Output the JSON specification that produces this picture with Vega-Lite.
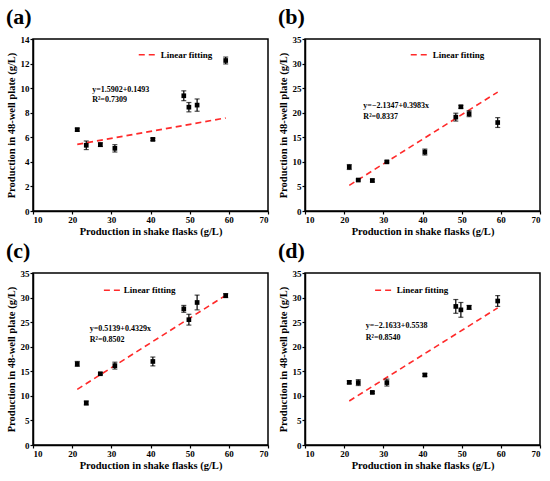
{
  "$schema": "https://vega.github.io/schema/vega-lite/v6.json",
  "datasets": {
    "d": [
      {"panel": "a", "kind": "pt", "x": 21.3, "y": 6.62, "err": 0.12},
      {"panel": "a", "kind": "pt", "x": 23.6, "y": 5.35, "err": 0.35},
      {"panel": "a", "kind": "pt", "x": 27.2, "y": 5.4, "err": 0.15},
      {"panel": "a", "kind": "pt", "x": 30.9, "y": 5.1, "err": 0.3},
      {"panel": "a", "kind": "pt", "x": 40.6, "y": 5.83, "err": 0.1},
      {"panel": "a", "kind": "pt", "x": 48.5, "y": 9.38, "err": 0.4},
      {"panel": "a", "kind": "pt", "x": 49.8, "y": 8.45, "err": 0.38},
      {"panel": "a", "kind": "pt", "x": 51.9, "y": 8.62, "err": 0.5},
      {"panel": "a", "kind": "pt", "x": 59.2, "y": 12.25, "err": 0.28},
      {"panel": "a", "kind": "fit", "x": 21.3, "y": 5.42},
      {"panel": "a", "kind": "fit", "x": 59.2, "y": 7.57},
      {"panel": "a", "kind": "leg", "x": 37.0, "x2": 41.7, "y": 12.72},
      {"panel": "a", "kind": "legtext", "x": 42.6, "y": 12.72, "label": "Linear fitting"},
      {"panel": "a", "kind": "eq", "x": 25.1, "y": 9.87, "label": "y=1.5902+0.1493"},
      {"panel": "a", "kind": "eq", "x": 25.1, "y": 9.0, "label": "R²=0.7309"},

      {"panel": "b", "kind": "pt", "x": 21.3, "y": 8.95, "err": 0.5},
      {"panel": "b", "kind": "pt", "x": 23.6, "y": 6.3, "err": 0.2},
      {"panel": "b", "kind": "pt", "x": 27.2, "y": 6.2, "err": 0.3},
      {"panel": "b", "kind": "pt", "x": 30.9, "y": 10.0, "err": 0.2},
      {"panel": "b", "kind": "pt", "x": 40.6, "y": 12.0, "err": 0.6},
      {"panel": "b", "kind": "pt", "x": 48.5, "y": 19.1, "err": 0.8},
      {"panel": "b", "kind": "pt", "x": 49.8, "y": 21.2, "err": 0.3},
      {"panel": "b", "kind": "pt", "x": 51.9, "y": 19.8, "err": 0.6},
      {"panel": "b", "kind": "pt", "x": 59.2, "y": 18.0, "err": 1.0},
      {"panel": "b", "kind": "fit", "x": 21.3, "y": 5.22},
      {"panel": "b", "kind": "fit", "x": 59.2, "y": 24.2},
      {"panel": "b", "kind": "leg", "x": 37.0, "x2": 41.7, "y": 31.8},
      {"panel": "b", "kind": "legtext", "x": 42.6, "y": 31.8, "label": "Linear fitting"},
      {"panel": "b", "kind": "eq", "x": 24.9, "y": 21.3, "label": "y=−2.1347+0.3983x"},
      {"panel": "b", "kind": "eq", "x": 24.9, "y": 19.1, "label": "R²=0.8337"},

      {"panel": "c", "kind": "pt", "x": 21.3, "y": 16.5, "err": 0.5},
      {"panel": "c", "kind": "pt", "x": 23.6, "y": 8.55, "err": 0.4},
      {"panel": "c", "kind": "pt", "x": 27.2, "y": 14.5, "err": 0.2},
      {"panel": "c", "kind": "pt", "x": 30.9, "y": 16.15, "err": 0.7},
      {"panel": "c", "kind": "pt", "x": 40.6, "y": 17.0, "err": 0.9},
      {"panel": "c", "kind": "pt", "x": 48.5, "y": 27.7, "err": 0.7},
      {"panel": "c", "kind": "pt", "x": 49.8, "y": 25.5, "err": 1.1},
      {"panel": "c", "kind": "pt", "x": 51.9, "y": 29.0, "err": 1.5},
      {"panel": "c", "kind": "pt", "x": 59.2, "y": 30.4, "err": 0.4},
      {"panel": "c", "kind": "fit", "x": 21.3, "y": 11.33},
      {"panel": "c", "kind": "fit", "x": 59.2, "y": 30.46},
      {"panel": "c", "kind": "leg", "x": 28.1, "x2": 32.4, "y": 31.5},
      {"panel": "c", "kind": "legtext", "x": 33.2, "y": 31.5, "label": "Linear fitting"},
      {"panel": "c", "kind": "eq", "x": 24.5, "y": 23.7, "label": "y=0.5139+0.4329x"},
      {"panel": "c", "kind": "eq", "x": 24.5, "y": 21.3, "label": "R²=0.8502"},

      {"panel": "d", "kind": "pt", "x": 21.3, "y": 12.75, "err": 0.3},
      {"panel": "d", "kind": "pt", "x": 23.6, "y": 12.7, "err": 0.6},
      {"panel": "d", "kind": "pt", "x": 27.2, "y": 10.7, "err": 0.2},
      {"panel": "d", "kind": "pt", "x": 30.9, "y": 12.7, "err": 0.7},
      {"panel": "d", "kind": "pt", "x": 40.6, "y": 14.25, "err": 0.3},
      {"panel": "d", "kind": "pt", "x": 48.5, "y": 28.2, "err": 1.4},
      {"panel": "d", "kind": "pt", "x": 49.8, "y": 27.5, "err": 1.5},
      {"panel": "d", "kind": "pt", "x": 51.9, "y": 28.0, "err": 0.4},
      {"panel": "d", "kind": "pt", "x": 59.2, "y": 29.3, "err": 1.1},
      {"panel": "d", "kind": "fit", "x": 21.3, "y": 8.96},
      {"panel": "d", "kind": "fit", "x": 59.2, "y": 27.9},
      {"panel": "d", "kind": "leg", "x": 27.9, "x2": 32.5, "y": 31.5},
      {"panel": "d", "kind": "legtext", "x": 33.4, "y": 31.5, "label": "Linear fitting"},
      {"panel": "d", "kind": "eq", "x": 25.5, "y": 24.2, "label": "y=−2.1633+0.5538"},
      {"panel": "d", "kind": "eq", "x": 25.5, "y": 21.8, "label": "R²=0.8540"}
    ]
  },
  "columns": 2,
  "spacing": {"column": 7, "row": 1},
  "concat": [
    {
      "title": "(a)",
      "width": 235,
      "height": 172,
      "data": {"name": "d"},
      "transform": [{"filter": "datum.panel == 'a'"}],
      "encoding": {
        "x": {"field": "x", "type": "quantitative", "title": "Production in shake flasks (g/L)",
              "scale": {"domain": [10, 70], "nice": false}, "axis": {"values": [10, 20, 30, 40, 50, 60, 70]}},
        "y": {"field": "y", "type": "quantitative", "title": "Production in 48-well plate (g/L)",
              "scale": {"domain": [0, 14], "nice": false}, "axis": {"values": [0, 2, 4, 6, 8, 10, 12, 14]}}
      },
      "layer": [
        {"transform": [{"filter": "datum.kind == 'fit'"}], "mark": {"type": "line", "color": "#ff2a2a", "strokeWidth": 1.6, "strokeDash": [6, 4]}},
        {"transform": [{"filter": "datum.kind == 'pt'"}], "mark": {"type": "errorbar", "color": "black", "thickness": 1.2, "ticks": {"size": 5, "thickness": 1.2, "color": "black"}}, "encoding": {"yError": {"field": "err"}}},
        {"transform": [{"filter": "datum.kind == 'pt'"}], "mark": {"type": "square", "filled": true, "color": "black", "size": 22, "opacity": 1}},
        {"transform": [{"filter": "datum.kind == 'leg'"}], "mark": {"type": "rule", "color": "#ff2a2a", "strokeWidth": 1.6, "strokeDash": [6, 4]}, "encoding": {"x2": {"field": "x2"}}},
        {"transform": [{"filter": "datum.kind == 'legtext'"}], "mark": {"type": "text", "align": "left", "color": "black", "fontSize": 9, "fontWeight": "bold", "font": "Liberation Serif"}, "encoding": {"text": {"field": "label"}}},
        {"transform": [{"filter": "datum.kind == 'eq'"}], "mark": {"type": "text", "align": "left", "color": "black", "fontSize": 8, "fontWeight": "bold", "font": "Liberation Serif"}, "encoding": {"text": {"field": "label"}}}
      ]
    },
    {
      "title": "(b)",
      "width": 235,
      "height": 172,
      "data": {"name": "d"},
      "transform": [{"filter": "datum.panel == 'b'"}],
      "encoding": {
        "x": {"field": "x", "type": "quantitative", "title": "Production in shake flasks (g/L)",
              "scale": {"domain": [10, 70], "nice": false}, "axis": {"values": [10, 20, 30, 40, 50, 60, 70]}},
        "y": {"field": "y", "type": "quantitative", "title": "Production in 48-well plate (g/L)",
              "scale": {"domain": [0, 35], "nice": false}, "axis": {"values": [0, 5, 10, 15, 20, 25, 30, 35]}}
      },
      "layer": [
        {"transform": [{"filter": "datum.kind == 'fit'"}], "mark": {"type": "line", "color": "#ff2a2a", "strokeWidth": 1.6, "strokeDash": [6, 4]}},
        {"transform": [{"filter": "datum.kind == 'pt'"}], "mark": {"type": "errorbar", "color": "black", "thickness": 1.2, "ticks": {"size": 5, "thickness": 1.2, "color": "black"}}, "encoding": {"yError": {"field": "err"}}},
        {"transform": [{"filter": "datum.kind == 'pt'"}], "mark": {"type": "square", "filled": true, "color": "black", "size": 22, "opacity": 1}},
        {"transform": [{"filter": "datum.kind == 'leg'"}], "mark": {"type": "rule", "color": "#ff2a2a", "strokeWidth": 1.6, "strokeDash": [6, 4]}, "encoding": {"x2": {"field": "x2"}}},
        {"transform": [{"filter": "datum.kind == 'legtext'"}], "mark": {"type": "text", "align": "left", "color": "black", "fontSize": 9, "fontWeight": "bold", "font": "Liberation Serif"}, "encoding": {"text": {"field": "label"}}},
        {"transform": [{"filter": "datum.kind == 'eq'"}], "mark": {"type": "text", "align": "left", "color": "black", "fontSize": 8, "fontWeight": "bold", "font": "Liberation Serif"}, "encoding": {"text": {"field": "label"}}}
      ]
    },
    {
      "title": "(c)",
      "width": 235,
      "height": 172,
      "data": {"name": "d"},
      "transform": [{"filter": "datum.panel == 'c'"}],
      "encoding": {
        "x": {"field": "x", "type": "quantitative", "title": "Production in shake flasks (g/L)",
              "scale": {"domain": [10, 70], "nice": false}, "axis": {"values": [10, 20, 30, 40, 50, 60, 70]}},
        "y": {"field": "y", "type": "quantitative", "title": "Production in 48-well plate (g/L)",
              "scale": {"domain": [0, 35], "nice": false}, "axis": {"values": [0, 5, 10, 15, 20, 25, 30, 35]}}
      },
      "layer": [
        {"transform": [{"filter": "datum.kind == 'fit'"}], "mark": {"type": "line", "color": "#ff2a2a", "strokeWidth": 1.6, "strokeDash": [6, 4]}},
        {"transform": [{"filter": "datum.kind == 'pt'"}], "mark": {"type": "errorbar", "color": "black", "thickness": 1.2, "ticks": {"size": 5, "thickness": 1.2, "color": "black"}}, "encoding": {"yError": {"field": "err"}}},
        {"transform": [{"filter": "datum.kind == 'pt'"}], "mark": {"type": "square", "filled": true, "color": "black", "size": 22, "opacity": 1}},
        {"transform": [{"filter": "datum.kind == 'leg'"}], "mark": {"type": "rule", "color": "#ff2a2a", "strokeWidth": 1.6, "strokeDash": [6, 4]}, "encoding": {"x2": {"field": "x2"}}},
        {"transform": [{"filter": "datum.kind == 'legtext'"}], "mark": {"type": "text", "align": "left", "color": "black", "fontSize": 9, "fontWeight": "bold", "font": "Liberation Serif"}, "encoding": {"text": {"field": "label"}}},
        {"transform": [{"filter": "datum.kind == 'eq'"}], "mark": {"type": "text", "align": "left", "color": "black", "fontSize": 8, "fontWeight": "bold", "font": "Liberation Serif"}, "encoding": {"text": {"field": "label"}}}
      ]
    },
    {
      "title": "(d)",
      "width": 235,
      "height": 172,
      "data": {"name": "d"},
      "transform": [{"filter": "datum.panel == 'd'"}],
      "encoding": {
        "x": {"field": "x", "type": "quantitative", "title": "Production in shake flasks (g/L)",
              "scale": {"domain": [10, 70], "nice": false}, "axis": {"values": [10, 20, 30, 40, 50, 60, 70]}},
        "y": {"field": "y", "type": "quantitative", "title": "Production in 48-well plate (g/L)",
              "scale": {"domain": [0, 35], "nice": false}, "axis": {"values": [0, 5, 10, 15, 20, 25, 30, 35]}}
      },
      "layer": [
        {"transform": [{"filter": "datum.kind == 'fit'"}], "mark": {"type": "line", "color": "#ff2a2a", "strokeWidth": 1.6, "strokeDash": [6, 4]}},
        {"transform": [{"filter": "datum.kind == 'pt'"}], "mark": {"type": "errorbar", "color": "black", "thickness": 1.2, "ticks": {"size": 5, "thickness": 1.2, "color": "black"}}, "encoding": {"yError": {"field": "err"}}},
        {"transform": [{"filter": "datum.kind == 'pt'"}], "mark": {"type": "square", "filled": true, "color": "black", "size": 22, "opacity": 1}},
        {"transform": [{"filter": "datum.kind == 'leg'"}], "mark": {"type": "rule", "color": "#ff2a2a", "strokeWidth": 1.6, "strokeDash": [6, 4]}, "encoding": {"x2": {"field": "x2"}}},
        {"transform": [{"filter": "datum.kind == 'legtext'"}], "mark": {"type": "text", "align": "left", "color": "black", "fontSize": 9, "fontWeight": "bold", "font": "Liberation Serif"}, "encoding": {"text": {"field": "label"}}},
        {"transform": [{"filter": "datum.kind == 'eq'"}], "mark": {"type": "text", "align": "left", "color": "black", "fontSize": 8, "fontWeight": "bold", "font": "Liberation Serif"}, "encoding": {"text": {"field": "label"}}}
      ]
    }
  ],
  "config": {
    "font": "Liberation Serif",
    "background": "white",
    "view": {"stroke": "black", "strokeWidth": 1.5},
    "axis": {
      "grid": false,
      "domainColor": "black",
      "domainWidth": 1.5,
      "tickColor": "black",
      "tickSize": 3,
      "tickWidth": 1.2,
      "labelPadding": 1,
      "labelFont": "Liberation Serif",
      "labelFontWeight": "bold",
      "labelFontSize": 9,
      "labelColor": "black",
      "titleFont": "Liberation Serif",
      "titleFontWeight": "bold",
      "titleFontSize": 10.5,
      "titleColor": "black",
      "titlePadding": 4
    },
    "axisX": {"titlePadding": 2},
    "title": {
      "font": "Liberation Serif",
      "fontSize": 22,
      "fontWeight": "bold",
      "color": "black",
      "anchor": "start",
      "frame": "bounds",
      "offset": 6
    }
  }
}
